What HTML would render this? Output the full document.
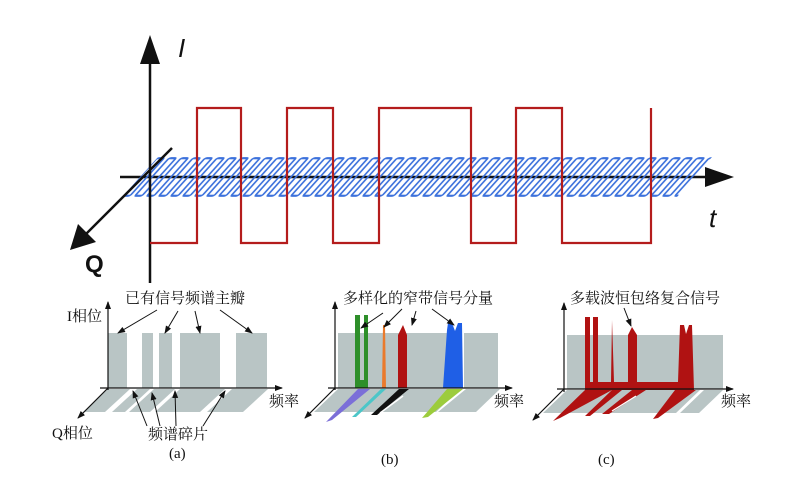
<!DOCTYPE html>
<html><head><meta charset="utf-8"><style>
html,body{margin:0;padding:0;background:#fff;}
svg{display:block;}
.cn{font-family:"Liberation Serif","Noto Serif CJK SC",serif;font-size:15px;fill:#111;}
</style></head><body>
<svg width="801" height="498" viewBox="0 0 801 498" xmlns="http://www.w3.org/2000/svg">
<defs>
<pattern id="hatch" patternUnits="userSpaceOnUse" x="0" y="0" width="12" height="200" patternTransform="translate(0,157) skewX(-42)">
<rect x="2" y="1.2" width="7" height="37.6" rx="1.5" fill="none" stroke="#3d72dc" stroke-width="2.2"/>
</pattern>
<marker id="ah" markerWidth="8" markerHeight="8" refX="7" refY="4" orient="auto" markerUnits="userSpaceOnUse">
<path d="M0,1 L8,4 L0,7 Z" fill="#111"/>
</marker>
</defs>

<!-- top plot -->
<line x1="120" y1="177" x2="708" y2="177" stroke="#111" stroke-width="2.5"/>
<polygon points="705,167 734,177 705,187" fill="#111"/>
<polygon points="158,157 712,157 677,197 122,197" fill="url(#hatch)"/>
<line x1="150" y1="60" x2="150" y2="283" stroke="#111" stroke-width="2.5"/>
<polygon points="150,35 140,64 160,64" fill="#111"/>
<line x1="172" y1="148" x2="86" y2="234" stroke="#111" stroke-width="2.5"/>
<polygon points="70,250 78,224 96,242" fill="#111"/>
<polyline points="150,243 197,243 197,108 241,108 241,243 287,243 287,108 333,108 333,243 379,243 379,108 471,108 471,243 516,243 516,108 562,108 562,243 651,243 651,108" fill="none" stroke="#b41c1c" stroke-width="2.2"/>
<text x="178" y="57" font-family="Liberation Sans,sans-serif" font-style="italic" font-size="26" fill="#111">I</text>
<text x="709" y="227" font-family="Liberation Sans,sans-serif" font-style="italic" font-size="26" fill="#111">t</text>
<text x="85" y="272" font-family="Liberation Sans,sans-serif" font-weight="bold" font-size="24" fill="#111">Q</text>

<!-- panel a -->
<g fill="#b9c5c5">
<rect x="108" y="333" width="19" height="55"/>
<rect x="142" y="333" width="11" height="55"/>
<rect x="159" y="333" width="13" height="55"/>
<rect x="180" y="333" width="40" height="55"/>
<rect x="236" y="333" width="31" height="55"/>
<polygon points="108,389 130,389 105,412 83,412"/>
<polygon points="137,389 150,389 125,412 112,412"/>
<polygon points="154,389 175,389 150,412 129,412"/>
<polygon points="180,389 225,389 200,412 155,412"/>
<polygon points="232,389 268,389 243,412 207,412"/>
</g>
<line x1="108" y1="390" x2="108" y2="302" stroke="#111" stroke-width="1.2" marker-end="url(#ah)"/>
<line x1="100" y1="388" x2="282" y2="388" stroke="#111" stroke-width="1.2" marker-end="url(#ah)"/>
<line x1="108" y1="388" x2="78" y2="418" stroke="#111" stroke-width="1.2" marker-end="url(#ah)"/>
<g stroke="#111" stroke-width="1" marker-end="url(#ah)">
<line x1="157" y1="310" x2="118" y2="333"/>
<line x1="178" y1="311" x2="165" y2="333"/>
<line x1="195" y1="311" x2="200" y2="333"/>
<line x1="220" y1="310" x2="252" y2="333"/>
<line x1="147" y1="426" x2="133" y2="391"/>
<line x1="160" y1="426" x2="152" y2="393"/>
<line x1="176" y1="426" x2="175" y2="391"/>
<line x1="203" y1="426" x2="225" y2="391"/>
</g>
<text class="cn" x="125" y="303">已有信号频谱主瓣</text>
<text class="cn" x="67" y="321">I相位</text>
<text class="cn" x="52" y="438">Q相位</text>
<text class="cn" x="148" y="439">频谱碎片</text>
<text class="cn" x="269" y="406">频率</text>
<text class="cn" x="169" y="458">(a)</text>

<!-- panel b -->
<g fill="#b9c5c5">
<rect x="338" y="333" width="122" height="55"/>
<rect x="464" y="333" width="34" height="55"/>
<polygon points="338,389 460,389 436,412 314,412"/>
<polygon points="466,389 500,389 476,412 438,412"/>
</g>
<path d="M355,315 H368 V388 H355 Z M360,315 V380 H364 V315 Z" fill="#2e8f2a" fill-rule="evenodd"/>
<polygon points="382,388 383,325 385,325 386,388" fill="#ea7a2c"/>
<polygon points="398,388 398,335 403,325 407,335 407,388" fill="#b01212"/>
<polygon points="443,388 447,330 448,323 452,323 455,331 458,323 462,323 463,388" fill="#1f5fe6"/>
<polygon points="358,389 370,389 332,420 326,422" fill="#7b6fd8"/>
<polygon points="381,389 386,389 356,417 352,417" fill="#4cc6c8"/>
<polygon points="399,389 409,389 377,415 371,415" fill="#111"/>
<line x1="403" y1="396" x2="380" y2="413" stroke="#fff" stroke-width="1.5"/>
<polygon points="447,389 463,389 428,417 422,418" fill="#9ccc3c"/>
<line x1="335" y1="390" x2="335" y2="302" stroke="#111" stroke-width="1.2" marker-end="url(#ah)"/>
<line x1="328" y1="388" x2="512" y2="388" stroke="#111" stroke-width="1.2" marker-end="url(#ah)"/>
<line x1="335" y1="388" x2="305" y2="418" stroke="#111" stroke-width="1.2" marker-end="url(#ah)"/>
<g stroke="#111" stroke-width="1" marker-end="url(#ah)">
<line x1="383" y1="313" x2="361" y2="328"/>
<line x1="402" y1="309" x2="384" y2="327"/>
<line x1="416" y1="311" x2="412" y2="325"/>
<line x1="432" y1="309" x2="454" y2="325"/>
</g>
<text class="cn" x="343" y="303">多样化的窄带信号分量</text>
<text class="cn" x="494" y="406">频率</text>
<text class="cn" x="381" y="464">(b)</text>

<!-- panel c -->
<g fill="#b9c5c5">
<rect x="567" y="335" width="156" height="54"/>
<polygon points="567,390 700,390 676,413 543,413"/>
<polygon points="704,390 723,390 699,413 680,413"/>
</g>
<g fill="#b01212">
<path d="M585,317 H590 V382 H593 V317 H598 V382 H611 L612,320 L614,382 H628 V335 L632,327 L637,335 V382 H678 L680,325 L684,325 L686,334 L689,325 L692,325 L694,390 H585 Z"/>
<polygon points="585,390 612,390 560,418 553,421"/>
<polygon points="612,390 622,390 590,416 585,416"/>
<polygon points="632,390 646,390 609,414 602,414"/>
<polygon points="675,390 696,390 658,418 653,419"/>
</g>
<line x1="636" y1="396" x2="612" y2="411" stroke="#fff" stroke-width="1.3"/>
<line x1="564" y1="392" x2="564" y2="303" stroke="#111" stroke-width="1.2" marker-end="url(#ah)"/>
<line x1="557" y1="389" x2="733" y2="389" stroke="#111" stroke-width="1.2" marker-end="url(#ah)"/>
<line x1="564" y1="389" x2="533" y2="420" stroke="#111" stroke-width="1.2" marker-end="url(#ah)"/>
<line x1="624" y1="308" x2="631" y2="326" stroke="#111" stroke-width="1" marker-end="url(#ah)"/>
<text class="cn" x="570" y="303">多载波恒包络复合信号</text>
<text class="cn" x="721" y="406">频率</text>
<text class="cn" x="598" y="464">(c)</text>
</svg>
</body></html>
